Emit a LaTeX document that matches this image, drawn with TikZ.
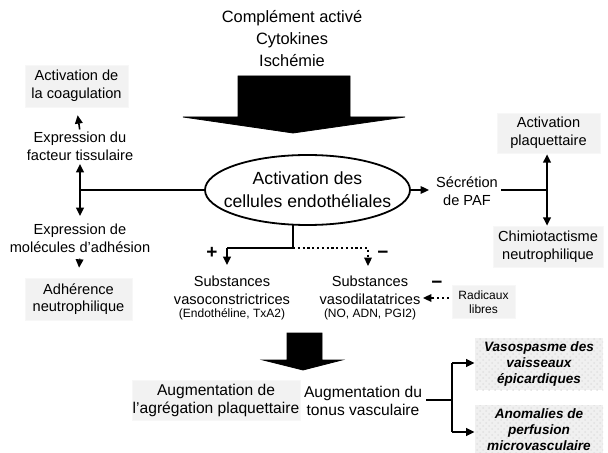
\documentclass[tikz,border=0pt]{standalone}
\usepackage{fontspec}
\setmainfont{Liberation Sans}
\usetikzlibrary{arrows.meta,shapes.geometric,patterns}
\begin{document}
\begin{tikzpicture}[x=0.5pt,y=-0.5pt,
  txt/.style={align=center,inner sep=0pt,font=\fontsize{7.3}{8.8}\selectfont},
  small/.style={align=center,inner sep=0pt,font=\fontsize{6}{7}\selectfont},
  graybox/.style={txt,fill=black!5,draw=black!3,line width=0.3pt},
  spotbox/.style={align=center,inner sep=0pt,font=\fontsize{6.8}{8}\selectfont\bfseries\itshape,
    fill=black!6,postaction={pattern=crosshatch dots,pattern color=black!12}},
  link/.style={line width=1pt},
  tip/.style={-{Triangle[length=4.2pt,width=3.8pt]}},
  both/.style={{Triangle[length=4.2pt,width=3.8pt]}-{Triangle[length=4.2pt,width=3.8pt]}},
  dots/.style={line width=1.1pt,dash pattern=on 1.1pt off 1.3pt},
  sign/.style={inner sep=0pt,font=\fontsize{9.5}{9.5}\selectfont\bfseries},
  bigarrow/.style={fill=black,draw=black,line width=0.4pt}]
\useasboundingbox (0,0) rectangle (608,453);

% triggers and the first large arrow
\node[align=center,inner sep=0pt,font=\fontsize{8.2}{11}\selectfont] (trig) at (292,39)
  {Complément activé\\Cytokines\\Ischémie};
\fill[bigarrow] (238,76) -- (350,76) -- (350,117) -- (405,117) -- (293,133)
  -- (183,117) -- (238,117) -- cycle;

% central node: fixed-size ellipse with its label on top
\node[draw,ellipse,line width=0.9pt,minimum width=102.5pt,minimum height=35pt,
  inner sep=0pt,outer sep=0pt] (ell) at (307.5,190) {};
\node[align=center,inner sep=0pt,font=\fontsize{8.8}{11.5}\selectfont] (elltxt) at (ell.center)
  {Activation des\\cellules endothéliales};

% left branch: coagulation and adhesion
\node[graybox,minimum width=51.5pt,minimum height=21pt] (coag) at (76.5,86)
  {Activation de\\la coagulation};
\node[txt] (exprtf) at (80,146) {Expression du\\facteur tissulaire};
\node[txt] (expradh) at (80,238) {Expression de\\molécules d'adhésion};
\node[graybox,minimum width=53.5pt,minimum height=21pt] (adher) at (78.5,299)
  {Adhérence\\neutrophilique};
\coordinate (jl) at (80,190);
\coordinate (jlt) at (80,164);
\coordinate (jlb) at (80,216);
\draw[link] (ell.west) -- (jl);
\draw[link,both] (jlt) -- (jlb);
\draw[line width=0.8pt,tip,shorten <=1pt,shorten >=4pt] (exprtf.north) -- (coag.south);
\draw[line width=0.8pt,tip,shorten <=3pt,shorten >=5pt] (expradh.south) -- (adher.north);

% right branch: PAF
\node[txt] (paf) at (467,191) {Sécrétion\\de PAF};
\node[graybox,minimum width=51.5pt,minimum height=20pt] (plaq) at (548.5,133)
  {Activation\\plaquettaire};
\node[graybox,minimum width=55pt,minimum height=20.5pt] (chimio) at (548,246.5)
  {Chimiotactisme\\neutrophilique};
\coordinate (jr) at (547,190);
\coordinate (pafin) at (429,190);
\draw[line width=0.8pt,tip] (ell.east) -- (pafin);
\draw[link] (paf.east |- jr) ++(3,0) -- (jr);
\draw[link,both] (plaq.south -| jr) ++(0,1) -- (chimio.north -| jr);

% split below the central node
\coordinate (bt) at (293,248);
\coordinate (bl) at (227,248);
\coordinate (br) at (368,248);
\draw[link] (ell.south -| bt) ++(0,-1) -- (bt) -- (bl);
\draw[link,tip] (bl) -- ++(0,17);
\draw[dots] (bt) -- (br) -- ++(0,9);
\draw[line width=0.8pt,tip] (368,258) -- (368,266);
\node[sign] (plus) at (212,253) {+};
\node[sign] (minus1) at (383,255) {\textminus};

\node[txt] (subsc) at (232,290) {Substances\\vasoconstrictrices};
\node[small] (subsca) at (232,314) {(Endothéline, TxA2)};
\node[txt] (subsd) at (370,290) {Substances\\vasodilatatrices};
\node[small] (subsda) at (370,314) {(NO, ADN, PGI2)};

% free radicals
\node[graybox,small,minimum width=31.5pt,minimum height=16.5pt] (rad) at (483.5,302)
  {Radicaux\\libres};
\coordinate (radin) at (423,298);
\draw[dots] (rad.west |- radin) ++(-3,0) -- (431,298);
\draw[line width=0.8pt,tip] (432,298) -- (radin);
\node[sign] (minus2) at (437,285) {\textminus};

% second large arrow
\fill[bigarrow] (287,333) -- (322,333) -- (322,360) -- (342,360) -- (303,370)
  -- (263,360) -- (287,360) -- cycle;

% consequences
\node[graybox,font=\fontsize{7.8}{9}\selectfont,minimum width=84pt,minimum height=20pt] (agreg) at (216,400)
  {Augmentation de\\l'agrégation plaquettaire};
\node[txt,font=\fontsize{7.8}{9}\selectfont] (tonus) at (363,401)
  {Augmentation du\\tonus vasculaire};
\node[spotbox,minimum width=64pt,minimum height=26pt] (spasm) at (539,364)
  {Vasospasme des\\vaisseaux\\épicardiques};
\node[spotbox,minimum width=64pt,minimum height=25pt] (perf) at (539,430)
  {Anomalies de\\perfusion\\microvasculaire};
\coordinate (jt) at (452,400);
\coordinate (jtt) at (452,363);
\coordinate (jtb) at (452,432);
\draw[link] (tonus.east |- jt) ++(4,0) -- (jt);
\draw[link] (jtt) -- (jtb);
\draw[link,tip] (jtt) -- (spasm.west |- jtt);
\draw[link,tip] (jtb) -- (perf.west |- jtb);
\end{tikzpicture}
\end{document}
